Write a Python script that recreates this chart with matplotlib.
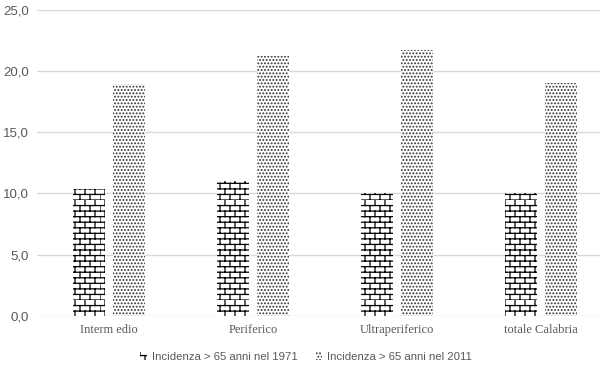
import numpy as np
import matplotlib
matplotlib.use("Agg")
import matplotlib.pyplot as plt
import matplotlib.hatch as mhatch
from matplotlib.path import Path

categories = ["Interm edio", "Periferico", "Ultraperiferico", "totale Calabria"]
series_names = ["Incidenza > 65 anni nel 1971", "Incidenza > 65 anni nel 2011"]
values_1971 = [10.4, 11.0, 10.0, 10.0]
values_2011 = [18.9, 21.2, 21.7, 19.0]
yticks = [0, 5, 10, 15, 20, 25]


class BrickHatch(mhatch.HatchPatternBase):
    rows = 18
    cols = 10

    def __init__(self, hatch, density):
        if '*' in hatch:
            self.num_vertices = self.rows * 2 + self.rows * self.cols * 2
        else:
            self.num_vertices = 0

    def set_vertices_and_codes(self, vertices, codes):
        k = 0
        for i in range(self.rows):
            y0 = i / self.rows
            y1 = (i + 1) / self.rows
            vertices[k] = (0.0, y0); codes[k] = Path.MOVETO; k += 1
            vertices[k] = (1.0, y0); codes[k] = Path.LINETO; k += 1
            off = 0.5 * (i % 2)
            for j in range(self.cols):
                xx = (j + off) / self.cols
                vertices[k] = (xx, y0); codes[k] = Path.MOVETO; k += 1
                vertices[k] = (xx, y1); codes[k] = Path.LINETO; k += 1


mhatch._hatch_types = [h for h in mhatch._hatch_types if h is not mhatch.Stars]
mhatch._hatch_types.append(BrickHatch)

plt.rcParams['font.family'] = ['Liberation Sans', 'DejaVu Sans']
plt.rcParams['hatch.linewidth'] = 0.9

fig = plt.figure(figsize=(6.0, 3.72), dpi=100)
left = 37 / 600
bottom = (372 - 316) / 372
top = (372 - 9.7) / 372
ax = fig.add_axes([left, bottom, 576 / 600, top - bottom])

x = np.arange(len(categories))
w = 0.222
off = 0.142
ax.bar(x - off, values_1971, width=w, color='white', edgecolor='black',
       hatch='*', linewidth=0, label=series_names[0], zorder=3)
ax.bar(x + off, values_2011, width=w, color='white', edgecolor='#333333',
       hatch='.....', linewidth=0, label=series_names[1], zorder=3)

ax.set_xlim(-0.5, len(categories) - 0.5)
ax.set_ylim(0, 25)
ax.set_yticks(yticks)
ax.set_yticklabels([f"{v:.1f}".replace('.', ',') for v in yticks],
                   fontsize=9.5, color='#595959')
ax.set_xticks(x)
ax.set_xticklabels(categories, fontsize=9, color='#595959',
                   family=['Liberation Serif', 'DejaVu Serif'])
ax.tick_params(axis='both', length=0)
ax.tick_params(axis='y', pad=6)
ax.tick_params(axis='x', pad=6)
for s in ax.spines.values():
    s.set_visible(False)
ax.grid(axis='y', color='#d9d9d9', linewidth=1.0, zorder=0)
ax.set_axisbelow(True)

fig.legend(loc='center', bbox_to_anchor=(0.51, 1 - 357 / 372), ncol=2,
           frameon=False, fontsize=8.2, handlelength=0.6, handleheight=0.6,
           handletextpad=0.4, columnspacing=1.6, labelcolor='#595959')

fig.savefig("out.png", dpi=100)
